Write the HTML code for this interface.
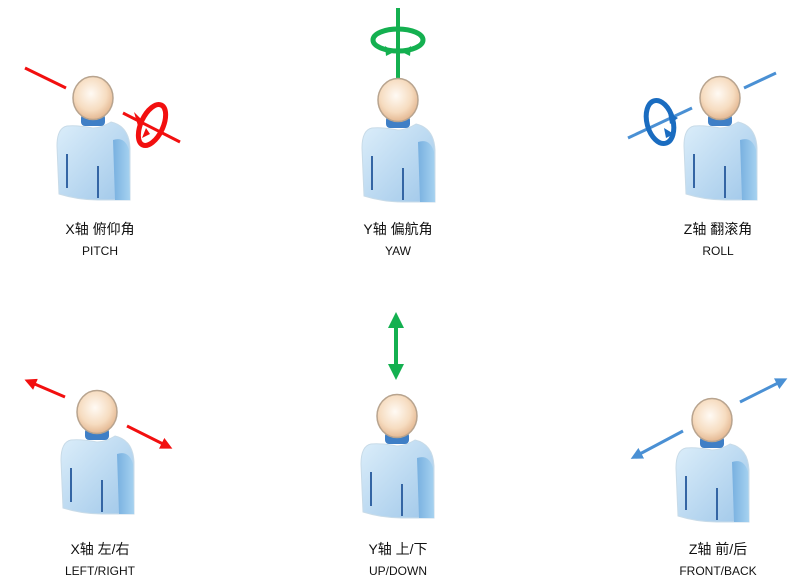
<!DOCTYPE html>
<html><head><meta charset="utf-8"><style>
body{margin:0;background:#fff;width:811px;height:588px;overflow:hidden}
svg{display:block}
text{font-family:"Liberation Sans","Noto Sans CJK SC",sans-serif;fill:#111;text-anchor:middle}
</style></head><body>
<svg width="811" height="588" viewBox="0 0 811 588">
<defs>
<radialGradient id="hg" cx="45%" cy="40%" r="65%"><stop offset="0" stop-color="#fffaf4"/><stop offset="0.6" stop-color="#f6dcc0"/><stop offset="1" stop-color="#e0b088"/></radialGradient>
<linearGradient id="bg" x1="0" y1="0" x2="1" y2="1"><stop offset="0" stop-color="#dceefa"/><stop offset="1" stop-color="#9fc7e9"/></linearGradient>
<linearGradient id="ag" x1="0" y1="0" x2="1" y2="0"><stop offset="0" stop-color="#78b0e0"/><stop offset="1" stop-color="#a6d2f0"/></linearGradient>
<g id="p">
<path d="M-26,28 Q-36,30 -36,48 L-34,96 Q-15,102 5,102 L37,102 L37,50 Q36,28 18,24 Q8,30 0,30 Q-16,27 -26,28 Z" fill="url(#bg)" stroke="#c8dbe8" stroke-width="1"/>
<path d="M20,42 Q32,38 36,52 L37,102 L22,102 Z" fill="url(#ag)"/>
<rect x="-12" y="16" width="24" height="12" rx="4" fill="#3f7fc6"/>
<line x1="-26" y1="56" x2="-26" y2="90" stroke="#3465a4" stroke-width="2"/>
<line x1="5" y1="68" x2="5" y2="100" stroke="#3465a4" stroke-width="2"/>
<ellipse cx="0" cy="0" rx="20" ry="21.5" fill="url(#hg)" stroke="#b8a48f" stroke-width="1.5"/>
</g>
<marker id="mr" markerWidth="4" markerHeight="4" refX="2" refY="2" orient="auto" markerUnits="strokeWidth"><path d="M0,0 L4,2 L0,4 Z" fill="#f20f0f"/></marker>
<marker id="mg" markerWidth="4" markerHeight="4" refX="2" refY="2" orient="auto-start-reverse" markerUnits="strokeWidth"><path d="M0,0 L4,2 L0,4 Z" fill="#14b050"/></marker>
<marker id="mb" markerWidth="4" markerHeight="4" refX="2" refY="2" orient="auto" markerUnits="strokeWidth"><path d="M0,0 L4,2 L0,4 Z" fill="#4a90d4"/></marker>
</defs>

<!-- top row -->
<line x1="25" y1="68" x2="66" y2="88" stroke="#f20f0f" stroke-width="3"/>
<use href="#p" x="93" y="98"/>
<line x1="123" y1="113" x2="180" y2="142" stroke="#f20f0f" stroke-width="3"/>
<ellipse cx="152" cy="125" rx="11" ry="22" transform="rotate(25 152 125)" fill="none" stroke="#f20f0f" stroke-width="5"/>
<path d="M134,112 L144,122 L138,126 Z M146,128 L142,138 L150,134 Z" fill="#f20f0f"/>

<line x1="398" y1="8" x2="398" y2="78" stroke="#14b050" stroke-width="4"/>
<ellipse cx="398" cy="40" rx="25" ry="11" fill="none" stroke="#14b050" stroke-width="5"/>
<path d="M385,46 L394,52 L386,56 Z M411,46 L402,52 L410,56 Z" fill="#14b050"/>
<use href="#p" x="398" y="100"/>

<line x1="628" y1="138" x2="692" y2="108" stroke="#4a90d4" stroke-width="3"/>
<ellipse cx="660" cy="122" rx="13" ry="22" transform="rotate(-15 660 122)" fill="none" stroke="#1a6cc0" stroke-width="5"/>
<path d="M668,112 L678,118 L670,124 Z M664,128 L674,134 L666,138 Z" fill="#1a6cc0"/>
<use href="#p" x="720" y="98"/>
<line x1="744" y1="88" x2="776" y2="73" stroke="#4a90d4" stroke-width="3"/>

<text x="100" y="234" font-size="14">X轴 俯仰角</text>
<text x="100" y="255" font-size="12">PITCH</text>
<text x="398" y="234" font-size="14">Y轴 偏航角</text>
<text x="398" y="255" font-size="12">YAW</text>
<text x="718" y="234" font-size="14">Z轴 翻滚角</text>
<text x="718" y="255" font-size="12">ROLL</text>

<!-- bottom row -->
<line x1="65" y1="397" x2="30" y2="382" stroke="#f20f0f" stroke-width="3" marker-end="url(#mr)"/>
<line x1="127" y1="426" x2="167" y2="446" stroke="#f20f0f" stroke-width="3" marker-end="url(#mr)"/>
<use href="#p" x="97" y="412"/>

<line x1="396" y1="320" x2="396" y2="372" stroke="#14b050" stroke-width="4" marker-start="url(#mg)" marker-end="url(#mg)"/>
<use href="#p" x="397" y="416"/>

<line x1="683" y1="431" x2="636" y2="456" stroke="#4a90d4" stroke-width="3" marker-end="url(#mb)"/>
<line x1="740" y1="402" x2="782" y2="381" stroke="#4a90d4" stroke-width="3" marker-end="url(#mb)"/>
<use href="#p" x="712" y="420"/>

<text x="100" y="554" font-size="14">X轴 左/右</text>
<text x="100" y="575" font-size="12">LEFT/RIGHT</text>
<text x="398" y="554" font-size="14">Y轴 上/下</text>
<text x="398" y="575" font-size="12">UP/DOWN</text>
<text x="718" y="554" font-size="14">Z轴 前/后</text>
<text x="718" y="575" font-size="12">FRONT/BACK</text>
</svg>
</body></html>
